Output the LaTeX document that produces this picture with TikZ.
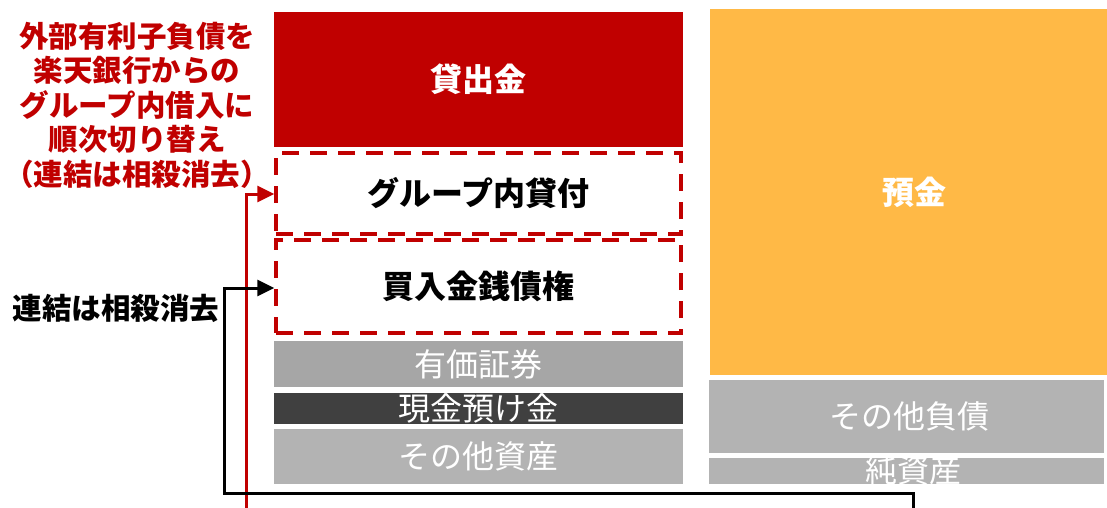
\documentclass[tikz,border=0pt]{standalone}
\usepackage{fontspec}
\setmainfont{Noto Sans CJK JP}
\newfontfamily\jp{Noto Sans CJK JP}
\usetikzlibrary{arrows.meta}
\definecolor{rred}{HTML}{C00000}
\definecolor{rorange}{HTML}{FFB946}
\definecolor{gA}{HTML}{A6A6A6}
\definecolor{gB}{HTML}{B3B3B3}
\definecolor{gD}{HTML}{404040}
\begin{document}
\begin{tikzpicture}[x=1pt,y=-1pt,
  blk/.style={inner sep=0pt, outer sep=0pt, font=\jp\fontsize{32}{34}\selectfont, text=white},
  bblk/.style={blk, font=\jp\bfseries\fontsize{32}{34}\selectfont},
  dbox/.style={draw=rred, line width=3.5pt, dash pattern=on 17pt off 11pt, inner sep=0pt,
     font=\jp\bfseries\fontsize{32}{34}\selectfont, text=black},
  lbl/.style={inner sep=0pt, align=center, font=\jp\bfseries\fontsize{29.5}{34.5}\selectfont},
  conn/.style={line width=3pt, -{Triangle[length=17pt,width=16pt]}}
]
\useasboundingbox (0,0) rectangle (1107,508);
% left column
\node[bblk, fill=rred, minimum width=409pt, minimum height=134pt] (loan) at (478.5,79.5) {貸出金};
\node[dbox, minimum width=405pt, minimum height=81pt] (grp) at (478.5,193.5) {グループ内貸付};
\node[dbox, minimum width=405pt, minimum height=93pt] (mkc) at (478.5,286.5) {買入金銭債権};
\node[blk, fill=gA, minimum width=409pt, minimum height=46pt] (sec) at (478.5,364) {有価証券};
\node[blk, fill=gD, minimum width=409pt, minimum height=31pt] (cash) at (478.5,408.5) {現金預け金};
\node[blk, fill=gB, minimum width=409pt, minimum height=55pt] (oth) at (478.5,456.5) {その他資産};
% right column
\node[bblk, fill=rorange, minimum width=397pt, minimum height=366pt] (dep) at (908.5,192) {\hspace*{11pt}預金};
\node[blk, fill=gB, minimum width=395pt, minimum height=73pt] (oliab) at (906.5,416.5) {\hspace*{6pt}その他負債};
\begin{scope}
\clip (709,458) rectangle (1104,483);
\node[blk, fill=gB, minimum width=395pt, minimum height=25pt] (net) at (906.5,470.5) {\hspace*{14pt}純資産};
\end{scope}
% labels
\node[lbl, text=rred] (rlab) at (137,105) {外部有利子負債を\\楽天銀行からの\\グループ内借入に\\順次切り替え\\（連結は相殺消去）};
\node[lbl, text=black] (blab) at (116,308) {連結は相殺消去};
% connectors
\coordinate (rb) at (246,508);
\coordinate (rt) at (246,194);
\draw[conn, draw=rred] (rb) -- (rt) -- (grp.west |- rt);
\coordinate (kb) at (913,508);
\coordinate (k1) at (913,493.5);
\coordinate (k2) at (224.5,493.5);
\coordinate (k3) at (224.5,288);
\draw[conn, draw=black] (kb) -- (k1) -- (k2) -- (k3) -- (mkc.west |- k3);
\end{tikzpicture}
\end{document}
